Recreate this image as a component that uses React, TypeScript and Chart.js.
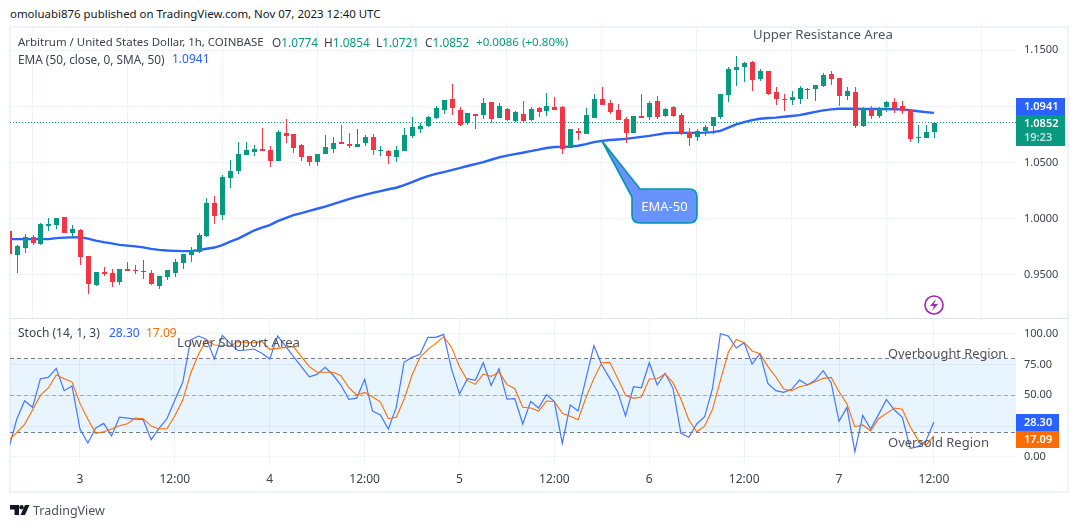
import { useEffect, useRef } from "react";
import { Chart, registerables } from "chart.js";

Chart.register(...registerables);

const opens = [
  0.9889, 0.9675, 0.9738, 0.9836, 0.9773, 0.9934, 0.9942, 1.0014, 0.9871, 0.9898,
  0.9667, 0.9408, 0.9524, 0.9515, 0.9435, 0.9551, 0.9542, 0.9524, 0.9515, 0.9399,
  0.948, 0.9515, 0.9604, 0.9675, 0.9702, 0.9845, 1.0138, 1.0031, 1.0361, 1.0423,
  1.0565, 1.0592, 1.0619, 1.061, 1.0512, 1.0761, 1.0752, 1.0654, 1.0556, 1.0503,
  1.0574, 1.0619, 1.0681, 1.0663, 1.0637, 1.0672, 1.0726, 1.0601, 1.0601, 1.0548,
  1.0601, 1.0735, 1.0797, 1.0824, 1.0895, 1.0966, 1.1064, 1.0966, 1.085, 1.093,
  1.0921, 1.1037, 1.0895, 1.0975, 1.0868, 1.093, 1.0877, 1.0984, 1.0957, 1.0993,
  1.0993, 1.0628, 1.0779, 1.0752, 1.0895, 1.1064, 1.1028, 1.0966, 1.0886, 1.0761,
  1.0913, 1.0904, 1.1046, 1.0913, 1.0993, 1.0921, 1.077, 1.0726, 1.0779, 1.0824,
  1.0904, 1.1099, 1.1322, 1.1349, 1.1393, 1.1242, 1.1313, 1.1126, 1.1064, 1.1055,
  1.1064, 1.1144, 1.1153, 1.118, 1.1286, 1.1251, 1.1091, 1.1126, 1.0823, 1.0975,
  1.0912, 1.0993, 1.1037, 1.1002, 1.0966, 1.0717, 1.0717, 1.0774,
];
const highs = [
  0.9889, 0.9764, 0.9862, 0.9853, 0.9963, 1.0005, 1.0005, 1.0014, 0.9942, 0.9907,
  0.9667, 0.9524, 0.9569, 0.9551, 0.9551, 0.9613, 0.9586, 0.9631, 0.9542, 0.9488,
  0.9542, 0.964, 0.9684, 0.9747, 0.9871, 1.0183, 1.0201, 1.0387, 1.0521, 1.0681,
  1.0681, 1.0654, 1.0806, 1.0646, 1.0788, 1.0886, 1.0752, 1.0663, 1.0556, 1.0574,
  1.0743, 1.0726, 1.0832, 1.0761, 1.0797, 1.0743, 1.0752, 1.0646, 1.061, 1.0646,
  1.0806, 1.0904, 1.085, 1.0913, 1.1002, 1.1055, 1.1197, 1.0993, 1.0939, 1.093,
  1.1073, 1.1037, 1.1028, 1.0984, 1.0957, 1.1046, 1.0993, 1.0993, 1.1117, 1.1082,
  1.1002, 1.0797, 1.0806, 1.0984, 1.1108, 1.1171, 1.1055, 1.1019, 1.0904, 1.0913,
  1.1108, 1.1046, 1.1091, 1.0984, 1.1002, 1.0939, 1.0806, 1.0797, 1.0832, 1.0904,
  1.1108, 1.1349, 1.1447, 1.1393, 1.1402, 1.1331, 1.1313, 1.1171, 1.1108, 1.1135,
  1.118, 1.1162, 1.1188, 1.1295, 1.1313, 1.1251, 1.1171, 1.1171, 1.0993, 1.1002,
  1.0993, 1.1046, 1.1073, 1.1046, 1.0975, 1.0832, 1.0832, 1.0854,
];
const lows = [
  0.9684, 0.9518, 0.9696, 0.9764, 0.9764, 0.9889, 0.9907, 0.9871, 0.9836, 0.9586,
  0.9328, 0.9399, 0.9488, 0.9391, 0.9408, 0.9533, 0.9506, 0.9462, 0.9408, 0.9373,
  0.9453, 0.948, 0.9551, 0.9613, 0.9693, 0.9836, 0.9951, 0.9987, 1.0272, 1.0396,
  1.0565, 1.0556, 1.0601, 1.0459, 1.0512, 1.0672, 1.0583, 1.0512, 1.0467, 1.0467,
  1.0574, 1.0583, 1.0663, 1.0628, 1.0637, 1.0646, 1.0565, 1.0556, 1.0485, 1.0503,
  1.0601, 1.0717, 1.0761, 1.0815, 1.0886, 1.093, 1.0921, 1.0824, 1.0832, 1.0797,
  1.0886, 1.085, 1.0895, 1.0868, 1.0859, 1.0859, 1.0868, 1.0904, 1.0913, 1.0966,
  1.0574, 1.0628, 1.0699, 1.0752, 1.0895, 1.101, 1.093, 1.0877, 1.0672, 1.0761,
  1.0895, 1.0877, 1.0886, 1.0904, 1.0904, 1.0743, 1.0646, 1.069, 1.0735, 1.0752,
  1.0886, 1.1037, 1.118, 1.1215, 1.1135, 1.1224, 1.1099, 1.101, 1.0957, 1.101,
  1.1019, 1.1064, 1.1046, 1.1171, 1.1188, 1.1002, 1.1055, 1.0806, 1.0815, 1.0886,
  1.0895, 1.0948, 1.0939, 1.093, 1.0681, 1.0672, 1.0717, 1.0721,
];
const closes = [
  0.9684, 0.9756, 0.9836, 0.9782, 0.9951, 0.9951, 1.0005, 0.9871, 0.9907, 0.9658,
  0.9417, 0.9524, 0.9506, 0.9435, 0.9551, 0.9533, 0.9533, 0.9533, 0.9417, 0.9488,
  0.9542, 0.9613, 0.9684, 0.972, 0.9853, 1.0138, 1.0023, 1.037, 1.0423, 1.0574,
  1.061, 1.0619, 1.0601, 1.0512, 1.077, 1.0735, 1.0628, 1.0548, 1.0503, 1.0574,
  1.0637, 1.0672, 1.0663, 1.0646, 1.0663, 1.0726, 1.061, 1.061, 1.0556, 1.061,
  1.0743, 1.0815, 1.0824, 1.0904, 1.0984, 1.1055, 1.0984, 1.0832, 1.0939, 1.0913,
  1.1028, 1.0886, 1.1002, 1.0877, 1.0948, 1.0868, 1.0975, 1.0948, 1.1002, 1.0966,
  1.0619, 1.0797, 1.0761, 1.0921, 1.1064, 1.101, 1.0948, 1.0877, 1.0761, 1.0913,
  1.0895, 1.1028, 1.0904, 1.0975, 1.0913, 1.0761, 1.0717, 1.0779, 1.0815, 1.0904,
  1.1108, 1.1331, 1.1349, 1.1384, 1.1233, 1.1313, 1.1108, 1.1064, 1.1055, 1.1082,
  1.1162, 1.1153, 1.1188, 1.1277, 1.1242, 1.1091, 1.1135, 1.0823, 1.0984, 1.0912,
  1.0984, 1.1037, 1.0984, 1.0957, 1.0708, 1.0726, 1.077, 1.0852,
];
const ema50 = [
  0.9818, 0.9818, 0.9818, 0.9818, 0.9818, 0.9818, 0.9827, 0.9831, 0.9833, 0.9834,
  0.9822, 0.9805, 0.9791, 0.978, 0.9767, 0.976, 0.9753, 0.9744, 0.9731, 0.9722,
  0.9716, 0.9713, 0.9711, 0.9711, 0.972, 0.9732, 0.9743, 0.9765, 0.9796, 0.9822,
  0.9858, 0.9894, 0.992, 0.9943, 0.9978, 1.0005, 1.0032, 1.0049, 1.0069, 1.0088,
  1.0107, 1.0129, 1.0152, 1.0174, 1.0193, 1.0212, 1.0229, 1.0245, 1.0261, 1.0275,
  1.0299, 1.0325, 1.0354, 1.0379, 1.0398, 1.0414, 1.0432, 1.045, 1.0468, 1.0485,
  1.0503, 1.0524, 1.0545, 1.0561, 1.0574, 1.0586, 1.0601, 1.0614, 1.0628, 1.0637,
  1.0638, 1.0642, 1.0648, 1.0663, 1.0681, 1.0692, 1.0699, 1.0704, 1.071, 1.0719,
  1.0727, 1.0736, 1.0748, 1.076, 1.0763, 1.0765, 1.0763, 1.0763, 1.0765, 1.077,
  1.0781, 1.081, 1.0839, 1.0859, 1.0877, 1.0889, 1.0895, 1.0899, 1.0906, 1.0913,
  1.0921, 1.0935, 1.095, 1.0963, 1.0972, 1.0977, 1.0978, 1.0977, 1.0975, 1.0975,
  1.0976, 1.0975, 1.0973, 1.0972, 1.0964, 1.0955, 1.0948, 1.0941,
];
const stochK = [
  6.9, 30.5, 45.6, 40.2, 63.4, 64.5, 71.8, 53.7, 57.5, 22.6,
  11.3, 23.4, 27.2, 16.9, 32.3, 31.5, 30.7, 30.2, 14.0, 23.2,
  31.0, 46.1, 60.5, 94.8, 98.0, 95.3, 79.4, 98.6, 92.1, 86.1,
  86.7, 87.5, 84.0, 79.4, 98.0, 89.9, 81.3, 73.2, 65.0, 66.9,
  72.6, 66.4, 58.3, 46.7, 47.7, 62.9, 37.2, 34.0, 22.6, 40.2,
  76.9, 80.7, 83.2, 96.9, 96.9, 99.4, 71.0, 51.0, 63.4, 62.1,
  76.4, 58.0, 71.5, 46.9, 47.2, 26.7, 45.0, 39.6, 50.5, 44.8,
  11.0, 42.1, 37.2, 63.7, 90.2, 74.5, 63.7, 52.9, 33.2, 56.9,
  56.1, 76.4, 58.3, 67.8, 55.6, 19.1, 15.9, 26.7, 32.6, 55.6,
  99.9, 98.0, 88.3, 92.6, 75.3, 83.7, 59.6, 53.7, 52.3, 54.8,
  62.3, 58.3, 62.3, 69.9, 60.2, 28.8, 40.2, 4.2, 33.7, 22.6,
  34.5, 46.4, 38.0, 32.1, 6.9, 8.3, 13.2, 28.3,
];
const stochD = [
  13.7, 19.6, 26.4, 38.0, 49.9, 55.9, 66.4, 63.4, 60.7, 43.4,
  30.5, 19.1, 20.4, 22.6, 25.3, 26.9, 31.5, 31.0, 25.0, 22.6,
  22.9, 33.4, 46.1, 67.8, 83.4, 94.8, 90.7, 90.5, 89.9, 93.4,
  92.6, 92.6, 93.7, 87.2, 88.0, 88.8, 89.4, 81.3, 73.2, 68.6,
  68.6, 68.6, 65.9, 56.1, 50.2, 52.3, 48.8, 44.5, 31.0, 32.1,
  46.7, 66.4, 80.7, 87.2, 92.1, 97.5, 88.8, 73.2, 61.8, 58.8,
  67.2, 65.3, 68.8, 58.6, 55.3, 40.2, 39.6, 37.2, 45.3, 45.0,
  35.3, 32.9, 30.2, 48.3, 63.7, 76.4, 76.7, 63.7, 49.9, 47.5,
  48.6, 63.2, 63.4, 67.2, 60.2, 46.9, 29.9, 20.4, 25.0, 38.6,
  62.3, 84.8, 95.3, 92.6, 85.9, 83.7, 73.2, 65.0, 55.0, 53.7,
  56.9, 58.3, 61.0, 63.7, 64.5, 52.9, 42.9, 24.5, 25.9, 21.0,
  31.0, 35.3, 39.6, 38.6, 24.5, 13.7, 9.6, 17.09,
];

const timeTicks = [9, 21, 33, 45, 57, 69, 81, 93, 105, 117];
const timeLabels = ["3", "12:00", "4", "12:00", "5", "12:00", "6", "12:00", "7", "12:00"];
const priceTicks = [0.95, 1.0, 1.05, 1.1, 1.15];
const stochTicks = [0, 25, 50, 75, 100];

const lastEma = 1.0941;
const lastClose = 1.0852;
const lastK = 28.3;
const lastD = 17.09;

const FONT = '"Noto Sans", sans-serif';
const UP = "#089981";
const DOWN = "#f23645";
const BLUE = "#2962ff";
const ORANGE = "#ff6d00";
const GRID = "#f0f3fa";
const AXIS_TEXT = "#3f424d";
const X_MIN = 0.152;
const X_MAX = 127.38;

const labels = [
  { text: "Upper Resistance Area", left: 753, top: 25, size: 13.2 },
  { text: "Lower Support Area", left: 177, top: 333, size: 13.2 },
  { text: "Overbought Region", left: 888, top: 344, size: 12.8 },
  { text: "Oversold Region", left: 888, top: 433, size: 13 },
];

// sharp candles and level lines, same as the pixel snapped ones on the original
const snapMarks = {
  id: "snapMarks",
  afterDatasetsUpdate(chart: any) {
    chart.getSortedVisibleDatasetMetas().forEach((meta: any) => {
      if (meta.type === "bar") {
        meta.data.forEach((bar: any) => {
          bar.x = Math.round(bar.x) + 0.5;
          bar.y = Math.round(bar.y);
          bar.base = Math.round(bar.base);
        });
      } else if (meta.data.length === 2) {
        meta.data.forEach((point: any) => {
          point.y = Math.floor(point.y) + 0.5;
        });
      }
    });
  },
};

function drawBadge(ctx: any, x: number, y: number, w: number, h: number, color: string, text: string, extra?: string) {
  ctx.save();
  ctx.fillStyle = color;
  ctx.fillRect(x, y, w, h);
  ctx.textBaseline = "middle";
  ctx.textAlign = "left";
  ctx.fillStyle = "#fff";
  ctx.font = `600 11px ${FONT}`;
  ctx.fillText(text, x + 8, y + 8.5);
  if (extra) {
    ctx.fillStyle = "rgba(255,255,255,0.75)";
    ctx.fillText(extra, x + 8, y + 23);
  }
  ctx.restore();
}

const priceBadges = {
  id: "priceBadges",
  afterDraw(chart: any) {
    const y = chart.scales.y;
    const top = Math.round(y.getPixelForValue(lastClose)) - 8;
    drawBadge(chart.ctx, y.left, top - 17, 49, 17, BLUE, lastEma.toFixed(4));
    drawBadge(chart.ctx, y.left, top, 49, 31, UP, lastClose.toFixed(4), "19:23");
  },
};

const stochBadges = {
  id: "stochBadges",
  afterDraw(chart: any) {
    const y = chart.scales.y;
    const top = Math.round(y.getPixelForValue(lastK)) - 8;
    drawBadge(chart.ctx, y.left, top, 43, 17, BLUE, lastK.toFixed(2));
    drawBadge(chart.ctx, y.left, top + 17, 43, 17, ORANGE, lastD.toFixed(2));
  },
};

const fitY = (scale: any) => {
  scale.width = 53;
  scale.paddingTop = 0;
  scale.paddingBottom = 0;
};

const points = (values: number[]) => values.map((y, x) => ({ x, y }));
const flat = (y: number) => [
  { x: X_MIN, y },
  { x: X_MAX, y },
];

function xScale(showLabels: boolean) {
  return {
    type: "linear",
    offset: false,
    min: X_MIN,
    max: X_MAX,
    border: { display: false },
    grid: { color: GRID, drawTicks: false },
    afterBuildTicks: (scale: any) => {
      scale.ticks = timeTicks.map((value) => ({ value }));
    },
    afterFit: (scale: any) => {
      scale.height = showLabels ? 26 : 0;
      scale.paddingLeft = 0;
      scale.paddingRight = 0;
    },
    ticks: {
      display: showLabels,
      autoSkip: false,
      maxRotation: 0,
      padding: 6,
      color: AXIS_TEXT,
      font: { family: FONT, size: 12 },
      callback: (value: number) => timeLabels[timeTicks.indexOf(value)],
    },
  };
}

function yScale(min: number, max: number, values: number[], digits: number) {
  return {
    position: "right",
    min,
    max,
    border: { display: false },
    grid: { color: GRID, drawTicks: false },
    afterBuildTicks: (scale: any) => {
      scale.ticks = values.map((value) => ({ value }));
    },
    afterFit: fitY,
    ticks: {
      padding: 8,
      autoSkip: false,
      color: AXIS_TEXT,
      font: { family: FONT, size: 11 },
      callback: (value: number) => value.toFixed(digits),
    },
  };
}

const baseOptions = {
  animation: false,
  responsive: false,
  devicePixelRatio: 1,
  events: [],
  layout: { padding: 0 },
  plugins: { legend: { display: false }, tooltip: { enabled: false } },
};

const candleColors = opens.map((o, i) => (closes[i] >= o ? UP : DOWN));

function CandleChart() {
  const canvasRef = useRef<HTMLCanvasElement>(null);

  useEffect(() => {
    if (!canvasRef.current) return;

    const chart = new Chart(canvasRef.current, {
      type: "bar",
      data: {
        datasets: [
          {
            type: "line",
            data: flat(lastClose),
            borderColor: UP,
            borderWidth: 1,
            borderDash: [1, 2],
            pointRadius: 0,
            order: 4,
          },
          {
            type: "line",
            data: points(ema50),
            borderColor: BLUE,
            borderWidth: 2.4,
            pointRadius: 0,
            order: 3,
          },
          {
            data: opens.map((_, x) => ({ x, y: [lows[x], highs[x]] })),
            backgroundColor: candleColors,
            barThickness: 1,
            grouped: false,
            inflateAmount: 0,
            order: 2,
          },
          {
            data: opens.map((o, x) => ({ x, y: [o, closes[x]] })),
            backgroundColor: candleColors,
            barThickness: 5,
            grouped: false,
            inflateAmount: 0,
            order: 1,
          },
        ],
      },
      options: {
        ...baseOptions,
        scales: {
          x: xScale(false),
          y: yScale(0.9116, 1.1696, priceTicks, 4),
        },
      },
      plugins: [snapMarks, priceBadges],
    } as any);

    return () => {
      chart.destroy();
    };
  }, []);

  return (
    <canvas
      ref={canvasRef}
      width={1059}
      height={290}
      style={{ position: "absolute", left: 10, top: 28 }}
    />
  );
}

function StochChart() {
  const canvasRef = useRef<HTMLCanvasElement>(null);

  useEffect(() => {
    if (!canvasRef.current) return;

    const level = (y: number, color: string) => ({
      data: flat(y),
      borderColor: color,
      borderWidth: 1,
      borderDash: [4, 3],
      pointRadius: 0,
      order: 3,
    });

    const chart = new Chart(canvasRef.current, {
      type: "line",
      data: {
        datasets: [
          {
            ...level(80, "#787b86"),
            fill: { target: { value: 20 } },
            backgroundColor: "rgba(33,150,243,0.1)",
          },
          level(50, "rgba(120,123,134,0.6)"),
          level(20, "#787b86"),
          {
            data: points(stochK),
            borderColor: "#4477ff",
            borderWidth: 1.2,
            pointRadius: 0,
            order: 2,
          },
          {
            data: points(stochD),
            borderColor: ORANGE,
            borderWidth: 1.1,
            pointRadius: 0,
            order: 1,
          },
        ],
      },
      options: {
        ...baseOptions,
        scales: {
          x: xScale(true),
          y: yScale(-7.38, 111.84, stochTicks, 2),
        },
      },
      plugins: [snapMarks, stochBadges],
    } as any);

    return () => {
      chart.destroy();
    };
  }, []);

  return (
    <canvas
      ref={canvasRef}
      width={1059}
      height={173}
      style={{ position: "absolute", left: 10, top: 319 }}
    />
  );
}

function Text({ left, top, color = "#3f424d", size = 12, children }: any) {
  return (
    <div
      style={{
        position: "absolute",
        left,
        top,
        color,
        fontSize: size,
        lineHeight: "18px",
        whiteSpace: "nowrap",
      }}
    >
      {children}
    </div>
  );
}

export default function App() {
  return (
    <div
      style={{
        position: "absolute",
        left: 0,
        top: 0,
        width: 1080,
        height: 528,
        overflow: "hidden",
        background: "#fff",
        fontFamily: FONT,
      }}
    >
      <div
        style={{
          position: "absolute",
          left: 9,
          top: 26,
          width: 1060,
          height: 467,
          boxSizing: "border-box",
          border: "2px solid #f0f3fa",
        }}
      />
      <div
        style={{
          position: "absolute",
          left: 10,
          top: 318,
          width: 1059,
          height: 1,
          background: "#e0e3eb",
        }}
      />
      <CandleChart />
      <StochChart />

      <Text left={10} top={5} size={11.45} color="#131722">
        omoluabi876 published on TradingView.com, Nov 07, 2023 12:40 UTC
      </Text>

      <Text left={18} top={33} size={11.45}>Arbitrum / United States Dollar, 1h, COINBASE</Text>
      <Text left={272} top={33} size={11.8}>O<span style={{ color: UP }}>1.0774</span></Text>
      <Text left={324} top={33} size={11.8}>H<span style={{ color: UP }}>1.0854</span></Text>
      <Text left={376} top={33} size={11.8}>L<span style={{ color: UP }}>1.0721</span></Text>
      <Text left={425} top={33} size={11.8}>C<span style={{ color: UP }}>1.0852</span></Text>
      <Text left={476} top={33} size={11.6} color={UP}>+0.0086 (+0.80%)</Text>
      <Text left={18} top={50} size={11.8}>EMA (50, close, 0, SMA, 50)</Text>
      <Text left={172} top={50} color={BLUE}>1.0941</Text>
      <Text left={18} top={324}>Stoch (14, 1, 3)</Text>
      <Text left={109} top={324} color={BLUE}>28.30</Text>
      <Text left={146} top={324} color={ORANGE}>17.09</Text>

      {labels.map((l) => (
        <Text key={l.text} left={l.left} top={l.top} size={l.size} color="#50535e">
          {l.text}
        </Text>
      ))}

      <svg
        width={1080}
        height={528}
        style={{ position: "absolute", left: 0, top: 0, pointerEvents: "none" }}
      >
        <path
          d="M602 141 L640 189 H689 Q697 189 697 197 V215 Q697 223 689 223 H640 Q632 223 632 215 V197 Z"
          fill="#6792ff"
          stroke="#0097a7"
          strokeWidth={1.6}
          strokeLinejoin="round"
        />
        <text x={664.5} y={210.5} textAnchor="middle" fill="#fff" fontSize={13} fontFamily={FONT}>
          EMA-50
        </text>
        <circle cx={934} cy={305} r={9} fill="#fff" stroke="#9c27b0" strokeWidth={1.6} />
        <path d="M936 299 L930 306 H934 L932 311 L938 304 H934 Z" fill="#9c27b0" />
        <path d="M10 505 H19 V515 H14.5 V509.5 H10 Z" fill="#131722" />
        <circle cx={21.5} cy={507.2} r={2.2} fill="#131722" />
        <path d="M25 505 H29.5 L25 515 H20.5 Z" fill="#131722" />
      </svg>
      <Text left={33} top={502} size={12.5} color="#50535e">TradingView</Text>
    </div>
  );
}
